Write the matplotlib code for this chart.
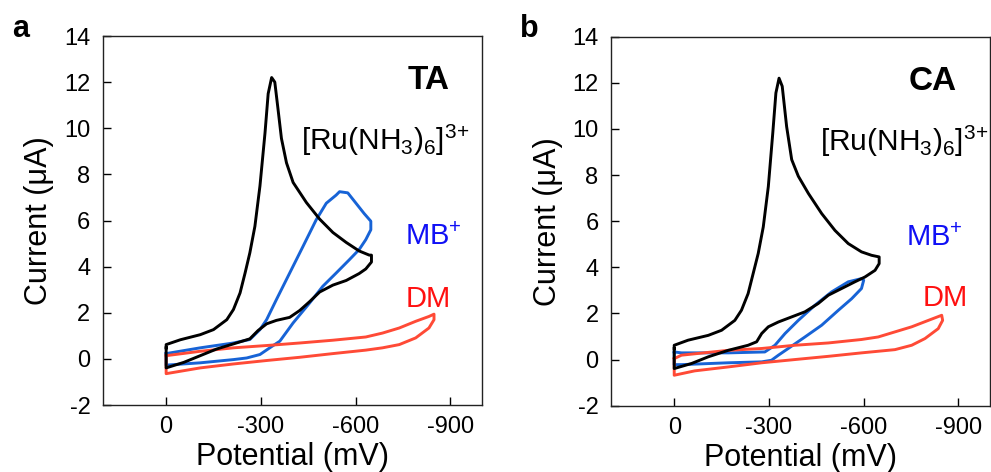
import matplotlib
matplotlib.use("Agg")
import matplotlib.pyplot as plt

plt.rcParams['font.family'] = ['Liberation Sans', 'DejaVu Sans']
plt.rcParams['mathtext.fontset'] = 'custom'
plt.rcParams['mathtext.rm'] = 'Liberation Sans'
plt.rcParams['mathtext.it'] = 'Liberation Sans:italic'
plt.rcParams['mathtext.bf'] = 'Liberation Sans:bold'
plt.rcParams['axes.unicode_minus'] = False

# cyclic voltammograms, potential in mV, current in uA
# panel a: TA
ta_ru_v = [0, 0, -45, -108, -150, -192, -213, -234, -250, -265, -281, -297, -313, -323,
           -334, -344, -354, -365, -381, -402, -444, -486, -528, -570, -611, -643, -650,
           -650, -632, -611, -570, -528, -486, -454, -423, -391, -349, -318, -291, -265,
           -213, -160, -108, -56, 0, 0]
ta_ru_i = [0.48, 0.62, 0.83, 1.05, 1.27, 1.7, 2.14, 2.86, 3.73, 4.6, 5.75, 7.5, 9.8, 11.5,
           12.2, 12.0, 10.85, 9.56, 8.5, 7.65, 6.78, 6.06, 5.48, 5.05, 4.68, 4.5, 4.5,
           4.2, 3.9, 3.7, 3.4, 3.2, 2.9, 2.48, 2.1, 1.8, 1.67, 1.52, 1.23, 0.87,
           0.65, 0.43, 0.14, -0.15, -0.39, 0.48]

ta_mb_v = [0, -108, -213, -265, -297, -318, -349, -391, -433, -475, -507, -538, -549, -575,
           -601, -627, -648, -648, -632, -611, -580, -538, -496, -454, -402, -360, -328,
           -297, -255, -213, -108, 0, 0]
ta_mb_i = [0.23, 0.48, 0.69, 0.84, 1.27, 1.7, 2.57, 3.72, 4.87, 6.03, 6.75, 7.1, 7.25, 7.2,
           6.75, 6.3, 5.97, 5.6, 5.17, 4.74, 4.3, 3.72, 3.15, 2.42, 1.56, 0.77, 0.48,
           0.19, 0.04, -0.03, -0.17, -0.27, 0.23]

ta_dm_v = [0, -108, -213, -318, -423, -528, -632, -685, -738, -790, -832, -848, -848, -832,
           -790, -738, -685, -632, -528, -423, -318, -213, -108, 0, 0]
ta_dm_i = [0.14, 0.33, 0.48, 0.58, 0.69, 0.81, 0.95, 1.12, 1.34, 1.63, 1.84, 1.94, 1.7, 1.34,
           0.91, 0.62, 0.48, 0.38, 0.23, 0.07, -0.07, -0.22, -0.39, -0.64, 0.14]

# panel b: CA
ca_ru_v = [0, 0, -44, -108, -150, -192, -213, -234, -250, -266, -282, -298, -312, -322,
           -332, -342, -356, -372, -393, -425, -467, -509, -551, -593, -625, -649,
           -649, -636, -604, -572, -530, -488, -456, -414, -372, -330, -298, -277, -261,
           -234, -171, -108, -55, 0, 0]
ca_ru_i = [0.48, 0.62, 0.84, 1.05, 1.27, 1.7, 2.14, 2.86, 3.73, 4.6, 5.75, 7.5, 9.8, 11.56,
           12.2, 11.85, 10.1, 8.67, 7.95, 7.2, 6.33, 5.6, 5.03, 4.67, 4.52, 4.45,
           4.16, 3.87, 3.58, 3.37, 3.08, 2.79, 2.43, 2.07, 1.85, 1.63, 1.42, 1.13, 0.77,
           0.62, 0.4, 0.12, -0.17, -0.39, 0.48]

ca_mb_v = [0, -23, -171, -287, -319, -351, -393, -446, -498, -551, -593, -600, -593, -562,
           -520, -467, -414, -361, -330, -308, -277, -171, -23, 0, 0]
ca_mb_i = [0.33, 0.29, 0.29, 0.33, 0.62, 1.13, 1.7, 2.36, 2.93, 3.37, 3.51, 3.44, 3.08, 2.64,
           2.14, 1.49, 0.98, 0.48, 0.19, -0.03, -0.1, -0.14, -0.22, -0.22, 0.33]

ca_dm_v = [0, -23, -171, -277, -382, -488, -593, -646, -699, -752, -805, -847, -850, -836,
           -794, -752, -699, -593, -488, -382, -277, -171, -65, 0, 0]
ca_dm_i = [0.04, 0.19, 0.4, 0.48, 0.62, 0.72, 0.87, 0.98, 1.2, 1.42, 1.7, 1.92, 1.7, 1.34,
           0.91, 0.62, 0.43, 0.29, 0.14, 0.0, -0.14, -0.32, -0.49, -0.68, 0.04]

x_ticks = [0, -300, -600, -900]
y_ticks = [-2, 0, 2, 4, 6, 8, 10, 12, 14]

BLACK = '#000000'
BLUE = '#1763d6'
RED = '#ff4a36'

fig = plt.figure(figsize=(9.91, 4.72), dpi=100)
ax_a = fig.add_axes([0.1039, 0.1419, 0.3825, 0.7818])
ax_b = fig.add_axes([0.6166, 0.1405, 0.3824, 0.7818])

# label anchors (data coords): surface name, complex, MB+, DM
panels = [
    (ax_a, 'a', 'TA', (ta_ru_v, ta_ru_i), (ta_mb_v, ta_mb_i), (ta_dm_v, ta_dm_i),
     (-898, 11.7), (-960, 9.06), (-756, 4.94), (-759, 2.25)),
    (ax_b, 'b', 'CA', (ca_ru_v, ca_ru_i), (ca_mb_v, ca_mb_i), (ca_dm_v, ca_dm_i),
     (-895, 11.7), (-995, 9.06), (-734, 4.94), (-788, 2.34)),
]

for ax, letter, name, ru, mb, dm, name_pos, ru_pos, mb_pos, dm_pos in panels:
    ax.plot(mb[0], mb[1], color=BLUE, lw=2.1, solid_joinstyle='round')
    ax.plot(dm[0], dm[1], color=RED, lw=2.1, solid_joinstyle='round')
    ax.plot(ru[0], ru[1], color=BLACK, lw=2.1, solid_joinstyle='round')

    ax.set_xlim(200, -1000)
    ax.set_ylim(-2, 14)
    ax.set_xticks(x_ticks)
    ax.set_xticklabels([str(t) for t in x_ticks])
    ax.set_yticks(y_ticks)
    ax.tick_params(direction='in', length=6, width=1, labelsize=17)
    ax.tick_params(axis='y', pad=9)
    ax.tick_params(axis='x', pad=8)
    for s in ax.spines.values():
        s.set_linewidth(1.0)
        s.set_color('#222222')

    ax.set_xlabel('Potential (mV)', fontsize=22, labelpad=3)
    ax.set_ylabel('Current (\u03bcA)', fontsize=22, labelpad=7)

    ax.text(name_pos[0], name_pos[1], name, fontsize=24, fontweight='bold',
            ha='right', va='baseline')
    ax.text(ru_pos[0], ru_pos[1], r'[Ru(NH$_3$)$_6$]$^{3{+}}$', fontsize=21.5,
            ha='right', va='baseline')
    ax.text(mb_pos[0], mb_pos[1], r'MB$^{+}$', fontsize=21, color='#1010f5',
            ha='left', va='baseline')
    ax.text(dm_pos[0], dm_pos[1], 'DM', fontsize=21, color='#ff1010',
            ha='left', va='baseline')

    fig.text(ax.get_position().x0 - 0.092, 0.922, letter, fontsize=22, fontweight='bold',
             ha='left', va='baseline')

fig.savefig('out.png', dpi=100)
